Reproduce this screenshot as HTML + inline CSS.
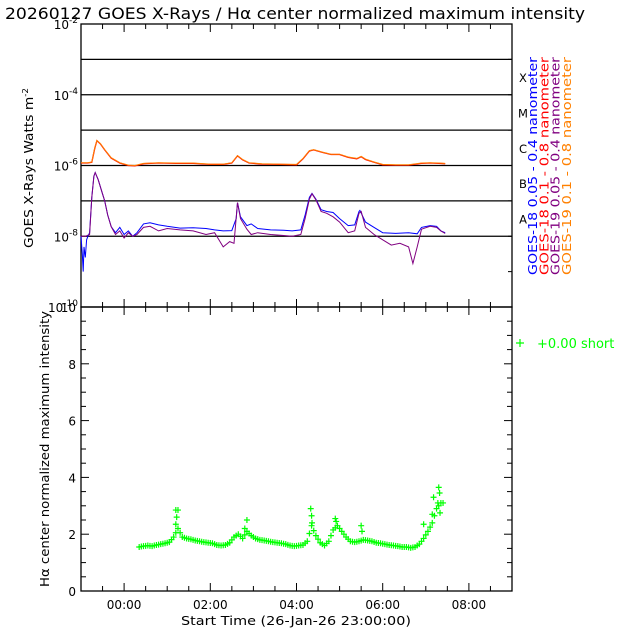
<!DOCTYPE html>
<html><head><meta charset="utf-8"><style>
body{margin:0;background:#fff}
svg{display:block;font-family:"DejaVu Sans","Liberation Sans",sans-serif}
</style></head><body>
<svg id="c" width="640" height="640" viewBox="0 0 640 640">
<rect width="640" height="640" fill="#fff"/>
<text x="5" y="19" font-size="16" textLength="580" lengthAdjust="spacingAndGlyphs">20260127 GOES X-Rays / Hα center normalized maximum intensity</text>
<g id="topPanel"></g>
<g id="botPanel"></g>
</svg>
<script>
// ---- data ----
const xTickLabels = ["00:00","02:00","04:00","06:00","08:00"];
const xTickHours = [0,2,4,6,8];
const flareClasses = ["X","M","C","B","A"];
const flareExps = [-4,-5,-6,-7,-8];
const longT = [-1,-0.85,-0.75,-0.68,-0.63,-0.55,-0.45,-0.3,-0.1,0.1,0.25,0.45,0.8,1.2,1.6,2.0,2.3,2.5,2.63,2.75,2.9,3.2,3.6,4.0,4.15,4.3,4.4,4.6,4.8,5.0,5.2,5.4,5.5,5.6,5.8,6.0,6.3,6.6,6.9,7.1,7.3,7.45];
const longV = [-5.92,-5.92,-5.9,-5.5,-5.29,-5.38,-5.55,-5.78,-5.92,-5.99,-6.0,-5.94,-5.92,-5.93,-5.93,-5.96,-5.96,-5.92,-5.72,-5.83,-5.92,-5.95,-5.96,-5.97,-5.8,-5.58,-5.55,-5.62,-5.68,-5.68,-5.76,-5.8,-5.74,-5.82,-5.9,-5.97,-5.98,-5.98,-5.93,-5.92,-5.93,-5.94];
const s18T = [-1,-0.97,-0.95,-0.93,-0.9,-0.87,-0.84,-0.8,-0.75,-0.7,-0.67,-0.6,-0.5,-0.45,-0.38,-0.3,-0.2,-0.1,0.0,0.1,0.2,0.3,0.45,0.6,0.8,1.0,1.3,1.6,1.9,2.1,2.3,2.5,2.6,2.63,2.7,2.85,2.95,3.1,3.4,3.7,3.9,4.1,4.2,4.3,4.36,4.45,4.57,4.7,4.85,5.0,5.2,5.35,5.45,5.47,5.6,5.8,6.0,6.3,6.6,6.8,6.9,7.1,7.25,7.35,7.45];
const s18V = [-8.0,-8.5,-9.0,-8.3,-8.6,-8.1,-8.0,-7.9,-6.9,-6.3,-6.2,-6.4,-6.8,-7.0,-7.4,-7.73,-7.9,-7.75,-7.95,-7.85,-8.0,-7.9,-7.65,-7.62,-7.68,-7.72,-7.77,-7.76,-7.78,-7.82,-7.85,-7.84,-7.5,-7.05,-7.45,-7.7,-7.65,-7.78,-7.82,-7.83,-7.85,-7.82,-7.4,-6.9,-6.79,-6.95,-7.25,-7.3,-7.33,-7.5,-7.7,-7.68,-7.3,-7.27,-7.6,-7.75,-7.9,-7.92,-7.9,-7.93,-7.75,-7.7,-7.72,-7.85,-7.9];
const s19T = [-1,-0.9,-0.8,-0.75,-0.7,-0.67,-0.6,-0.5,-0.45,-0.38,-0.3,-0.2,-0.1,0.0,0.1,0.2,0.3,0.45,0.6,0.8,1.0,1.3,1.6,1.9,2.1,2.2,2.3,2.45,2.55,2.63,2.7,2.85,2.95,3.1,3.4,3.7,3.9,4.1,4.2,4.3,4.36,4.45,4.57,4.7,4.85,5.0,5.2,5.35,5.45,5.5,5.6,5.8,6.0,6.2,6.4,6.6,6.7,6.8,6.9,7.1,7.25,7.35,7.45];
const s19V = [-8.0,-8.0,-7.95,-6.9,-6.3,-6.2,-6.4,-6.8,-7.0,-7.4,-7.73,-7.95,-7.85,-8.05,-7.9,-8.0,-7.95,-7.75,-7.72,-7.85,-7.78,-7.82,-7.85,-7.95,-7.9,-8.1,-8.3,-8.15,-8.2,-7.05,-7.5,-7.8,-7.95,-7.9,-7.95,-7.98,-8.0,-7.95,-7.5,-6.95,-6.8,-6.97,-7.3,-7.35,-7.45,-7.6,-7.9,-7.85,-7.35,-7.3,-7.75,-7.95,-8.1,-8.25,-8.2,-8.3,-8.77,-8.3,-7.8,-7.72,-7.75,-7.85,-7.92];
const haStart = 0.35;
const haV = [1.55,1.58,1.6,1.58,1.62,1.65,1.68,1.72,1.9,2.2,1.9,1.85,1.82,1.78,1.75,1.72,1.7,1.68,1.62,1.6,1.62,1.7,1.9,2.0,1.85,2.1,1.95,1.85,1.8,1.78,1.75,1.72,1.7,1.68,1.65,1.6,1.58,1.6,1.62,1.75,2.3,1.95,1.7,1.6,1.75,2.15,2.3,2.1,1.9,1.75,1.72,1.75,1.8,1.78,1.75,1.7,1.68,1.65,1.62,1.6,1.58,1.55,1.55,1.52,1.55,1.65,1.85,2.1,2.4,2.9,3.1];
const haSpikeT = [1.2,1.22,1.25,1.2,2.85,2.8,4.33,4.35,4.36,4.9,4.92,5.5,5.52,6.95,7.15,7.18,7.3,7.32,7.33,7.28];
const haSpikeV = [2.85,2.6,2.85,2.35,2.5,2.2,2.9,2.65,2.4,2.55,2.45,2.3,2.1,2.35,2.7,3.3,3.65,3.45,2.75,3.1];

// ---- axes ----
const L=81,R=512,T1=24,B1=307,T2=307,B2=591;
const xs=h=>L+(h+1)/10*(R-L);
const ysLog=v=>T1+(-2-v)/8*(B1-T1);
const ysLin=v=>B2-v/10*(B2-T2);
const NS="http://www.w3.org/2000/svg";
function mk(parent,tag,attrs,text){const e=document.createElementNS(NS,tag);for(const k in attrs)e.setAttribute(k,attrs[k]);if(text!=null)e.textContent=text;parent.appendChild(e);return e;}
const topG=document.getElementById('topPanel'),botG=document.getElementById('botPanel');

const f1=mk(topG,'rect',{x:L,y:T1,width:R-L,height:B1-T1,fill:'none',stroke:'#000','stroke-width':1.3});


const f2=mk(botG,'rect',{x:L,y:T2,width:R-L,height:B2-T2,fill:'none',stroke:'#000','stroke-width':1.3});



for(let h=-0.5;h<=8.6;h+=0.5){
  const x=xs(h),maj=Math.abs(h-Math.round(h))<0.01&&Math.round(h)%2===0,len=maj?8:5;
  const specs=[[topG,T1,1],[topG,B1,-1],[botG,T2,1],[botG,B2,-1]];
  for(const [g,y0,d] of specs){
    const t=mk(g,'line',{x1:x,x2:x,y1:y0,y2:y0+d*len,stroke:'#000','stroke-width':1});
    
    
  }
}
xTickLabels.forEach((s,i)=>{
  const t=mk(botG,'text',{x:xs(xTickHours[i]),y:609,'font-size':12,'text-anchor':'middle'},s);
  
  
});
const xt=mk(botG,'text',{x:296,y:625,'font-size':12.5,'text-anchor':'middle',textLength:230,lengthAdjust:'spacingAndGlyphs'},'Start Time (26-Jan-26 23:00:00)');



for(let e=-3;e>=-8;e--){
  const l=mk(topG,'line',{x1:L,x2:R,y1:ysLog(e),y2:ysLog(e),stroke:'#000','stroke-width':1.2});
  
  
}
for(let e=-2;e>=-10;e--){
  const y=ysLog(e);
  const r=mk(topG,'line',{x1:R,x2:R-4,y1:y,y2:y,stroke:'#000'});
  
  
  if(e%2===0){
    const t=mk(topG,'text',{x:L-3,y:y+5,'font-size':12,'text-anchor':'end'});
    
    
    mk(t,'tspan',{},'10');
    mk(t,'tspan',{dy:-6,'font-size':9},String(e));
  }
}
flareClasses.forEach((c,i)=>{
  const t=mk(topG,'text',{x:523,y:ysLog(flareExps[i]+0.5)+5,'font-size':11.5,'text-anchor':'middle'},c);
  
  
});
const yt1=mk(topG,'text',{transform:'translate(33,248) rotate(-90)','font-size':12.5,textLength:160,lengthAdjust:'spacingAndGlyphs'});


mk(yt1,'tspan',{},'GOES X-Rays Watts m');
mk(yt1,'tspan',{dy:-5,'font-size':8},'-2');

const legTexts=["GOES-18 0.05 - 0.4 nanometer","GOES-18 0.1 - 0.8 nanometer","GOES-19 0.05 - 0.4 nanometer","GOES-19 0.1 - 0.8 nanometer"];
const legColors=["#0000ff","#ff0000","#800080","#ff8000"];
legTexts.forEach((s,i)=>{
  const x=537+i*11.3;
  const t=mk(topG,'text',{transform:`translate(${x},275) rotate(-90)`,'font-size':12.5,fill:legColors[i],textLength:218,lengthAdjust:'spacingAndGlyphs'},s);
  
  
});

function poly(parent,T,V,col,name,w){
  const p=mk(parent,'polyline',{points:T.map((t,i)=>xs(t).toFixed(1)+','+ysLog(V[i]).toFixed(1)).join(' '),fill:'none',stroke:col,'stroke-width':w||1});
  
  
}
poly(topG,s18T,s18V,'#0000ff','goes18-short-line');
poly(topG,s19T,s19V,'#800080','goes19-short-line');
poly(topG,longT,longV.map(v=>v-0.01),'#ff0000','goes18-long-line',1.3);
poly(topG,longT,longV,'#ff8000','goes19-long-line');

for(let v=0;v<=10;v+=0.5){
  const y=ysLin(v),len=(v%2===0)?8:5;
  for(const [x0,d] of [[L,1],[R,-1]]){
    const t=mk(botG,'line',{x1:x0,x2:x0+d*len,y1:y,y2:y,stroke:'#000'});
    
    
  }
  if(v%2===0){
    const t=mk(botG,'text',{x:L-5,y:y+5,'font-size':12,'text-anchor':'end'},String(v));
    
    
  }
}
const yt2=mk(botG,'text',{transform:'translate(49,587) rotate(-90)','font-size':12.5,textLength:276,lengthAdjust:'spacingAndGlyphs'},'Hα center normalized maximum intensity');



function cross(x,y,name){
  const p=mk(botG,'path',{d:`M${x-3},${y}h6M${x},${y-3}v6`,stroke:'#00ff00','stroke-width':1.2});
  
  
}
haV.forEach((v,i)=>{
  const t=haStart+i*0.1;
  cross(xs(t),ysLin(v),'halpha-point');
  const n=i<haV.length-1?haV[i+1]:v;
  cross(xs(t+0.05),ysLin((v+n)/2),'halpha-point');
});
haSpikeT.forEach((t,i)=>cross(xs(t),ysLin(haSpikeV[i]),'halpha-spike-point'));

const lg=mk(botG,'g',{});


mk(lg,'path',{d:'M516,343h8M520,339v8',stroke:'#00ff00','stroke-width':1.2});
mk(lg,'text',{x:537,y:348,'font-size':13,fill:'#00ff00'},'+0.00 short');
</script>
</body></html>
